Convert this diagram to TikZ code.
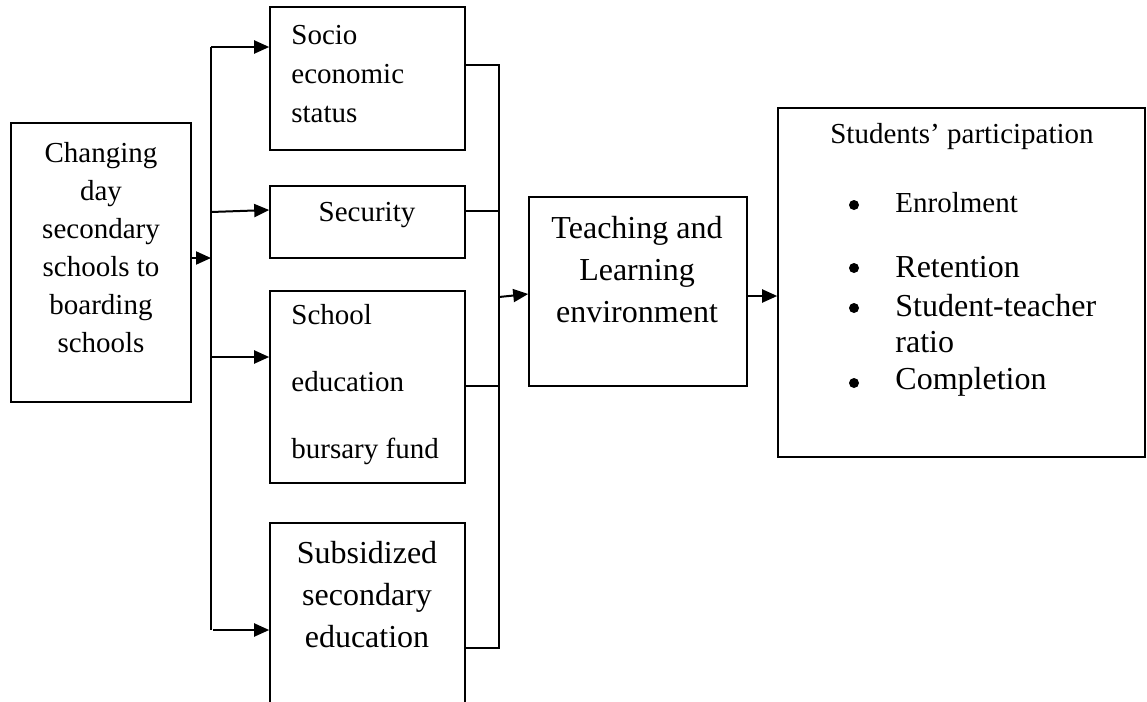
\documentclass[tikz,border=0pt]{standalone}
\usepackage{fontspec}
\setmainfont{Liberation Serif}
\usetikzlibrary{arrows.meta}
\begin{document}
\begin{tikzpicture}[x=0.5pt,y=-0.5pt,
  box/.style={draw,line width=0.8pt,rectangle,inner sep=0pt},
  conn/.style={line width=1pt},
  arr/.style={conn,-{Triangle[length=7.5pt,width=6.5pt]}},
  small/.style={inner sep=0pt,font=\fontsize{14.5}{19}\selectfont},
  big/.style={inner sep=0pt,font=\fontsize{16}{21}\selectfont},
  bul/.style={circle,fill,inner sep=0pt,minimum size=5pt}]
\useasboundingbox (0,0) rectangle (1147,702);
\clip (0,0) rectangle (1147,702);
% boxes
\node[box,minimum width=90pt,minimum height=139.5pt] (chg) at (101,262.5) {};
\node[box,minimum width=97.5pt,minimum height=71.5pt] (soc) at (367.5,78.5) {};
\node[box,minimum width=97.5pt,minimum height=36pt] (sec) at (367.5,222) {};
\node[box,minimum width=97.5pt,minimum height=96pt] (sch) at (367.5,387) {};
\node[box,minimum width=97.5pt,minimum height=98.5pt] (sub) at (367.5,621.5) {};
\node[box,minimum width=109pt,minimum height=94.5pt] (tch) at (638,291.5) {};
\node[box,minimum width=183.5pt,minimum height=174.5pt] (stu) at (961.5,282.5) {};
% texts
\node[small,align=center] (tchg) at (101,248) {Changing\\day\\secondary\\schools to\\boarding\\schools};
\node[small,align=left,anchor=west,font=\fontsize{14.5}{19.5}\selectfont] (tsoc) at (291,74) {Socio\\economic\\status};
\node[small] (tsec) at (367,215) {Security};
\node[small,align=left,anchor=west,font=\fontsize{14.5}{33.5}\selectfont] (tsch) at (291,385) {School\\education\\bursary fund};
\node[big,align=center] (tsub) at (367,595) {Subsidized\\secondary\\education};
\node[big,align=center] (ttch) at (637,270) {Teaching and\\Learning\\environment};
\node[small] (tstu) at (962,137) {Students’ participation};
\node[small,anchor=west] (i1) at (895,203) {Enrolment};
\node[big,anchor=west] (i2) at (895,267) {Retention};
\node[big,anchor=west,align=left,font=\fontsize{16}{18}\selectfont] (i3) at (895,324) {Student-teacher\\ratio};
\node[big,anchor=west] (i4) at (895,382) {Completion};
\node[bul] (b1) at (854,205) {};
\node[bul] (b2) at (854,268) {};
\node[bul] (b3) at (854,308) {};
\node[bul] (b4) at (854,383) {};
% connectors
\coordinate (lt) at (211,47);
\coordinate (lm) at (211,258);
\coordinate (l2) at (211,212);
\coordinate (l3) at (211,357);
\coordinate (lb) at (211,630);
\coordinate (l4) at (213,630);
\draw[conn] (lt) -- (lb);
\draw[arr] (chg.east |- lm) -- (lm);
\draw[arr] (lt) -- (lt -| soc.west);
\draw[arr] (l2) -- ([yshift=6pt]sec.west);
\draw[arr] (l3) -- (l3 -| sch.west);
\draw[arr] (l4) -- (l4 -| sub.west);
\coordinate (r1) at (499,65);
\coordinate (r2) at (499,211);
\coordinate (r3) at (499,386);
\coordinate (r4) at (499,648);
\coordinate (rm) at (499,297);
\draw[conn] (r1 -| soc.east) -- (r1) -- (r4) -- (r4 -| sub.east);
\draw[conn] (r2 -| sec.east) -- (r2);
\draw[conn] (r3 -| sch.east) -- (r3);
\draw[arr] (rm) -- ([yshift=-1.25pt]tch.west);
\coordinate (om) at (760,296);
\draw[arr] (tch.east |- om) -- (stu.west |- om);
\end{tikzpicture}
\end{document}
